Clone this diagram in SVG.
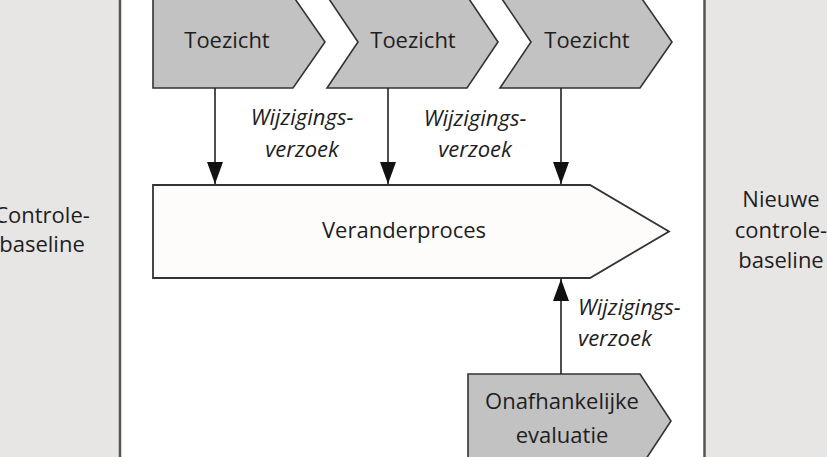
<svg xmlns="http://www.w3.org/2000/svg" width="827" height="457" viewBox="0 0 827 457">
<style>
.t{font-family:"Open Sans","Liberation Sans",sans-serif;font-size:22px;fill:#1e1e1e;}
.c{text-anchor:middle;}
.i{font-style:italic;}
.chev{fill:#c2c2c2;stroke:#333;stroke-width:1.6;stroke-linejoin:miter;}
.proc{fill:#fdfcfa;stroke:#333;stroke-width:1.8;}
.conn{stroke:#222;stroke-width:1.6;fill:none;}
.border{stroke:#555;stroke-width:2.5;}
</style>
<defs>
<marker id="ah" markerUnits="userSpaceOnUse" markerWidth="22" markerHeight="16" refX="22" refY="8" viewBox="0 0 22 16" orient="auto">
<path d="M0,0 L22,8 L0,16 Z" fill="#111"/>
</marker>
</defs>
<rect x="0" y="0" width="120" height="457" fill="#e7e6e4"/>
<rect x="705" y="0" width="122" height="457" fill="#e7e6e4"/>
<rect x="120" y="0" width="585" height="457" fill="#fff"/>
<line class="border" x1="120" y1="0" x2="120" y2="457"/>
<line class="border" x1="704.5" y1="0" x2="704.5" y2="457"/>

<g id="controle-baseline">
<text class="t c" x="42" y="223">Controle-</text>
<text class="t c" x="42" y="252">baseline</text>
</g>
<g id="nieuwe-controle-baseline">
<text class="t c" x="781" y="207">Nieuwe</text>
<text class="t c" x="781" y="238">controle-</text>
<text class="t c" x="781" y="268">baseline</text>
</g>

<g id="toezicht1">
<polygon class="chev" points="153,-4 293,-4 325,42 293,88 153,88"/>
<text class="t c" x="227" y="48">Toezicht</text>
</g>
<g id="toezicht2">
<polygon class="chev" points="327,-4 467,-4 498,42 467,88 327,88 358,42"/>
<text class="t c" x="413" y="48">Toezicht</text>
</g>
<g id="toezicht3">
<polygon class="chev" points="500,-4 640,-4 672,42 640,88 500,88 531,42"/>
<text class="t c" x="587" y="48">Toezicht</text>
</g>

<g id="veranderproces">
<polygon class="proc" points="153,185 590,185 669,231.5 590,278 153,278"/>
<text class="t c" x="404" y="238">Veranderproces</text>
</g>

<g id="evaluatie">
<polygon class="chev" points="468,374 640,374 671,421 640,468 468,468"/>
<text class="t c" x="562" y="409">Onafhankelijke</text>
<text class="t c" x="562" y="443">evaluatie</text>
</g>

<g id="connectors">
<line class="conn" x1="215" y1="88" x2="215" y2="184" marker-end="url(#ah)"/>
<line class="conn" x1="388" y1="88" x2="388" y2="184" marker-end="url(#ah)"/>
<line class="conn" x1="561" y1="88" x2="561" y2="184" marker-end="url(#ah)"/>
<line class="conn" x1="561" y1="374" x2="561" y2="279" marker-end="url(#ah)"/>
<text class="t c i" x="302" y="125">Wijzigings-</text>
<text class="t c i" x="302" y="157">verzoek</text>
<text class="t c i" x="475" y="126">Wijzigings-</text>
<text class="t c i" x="475" y="157">verzoek</text>
<text class="t i" x="578" y="315">Wijzigings-</text>
<text class="t i" x="578" y="346">verzoek</text>
</g>
</svg>
